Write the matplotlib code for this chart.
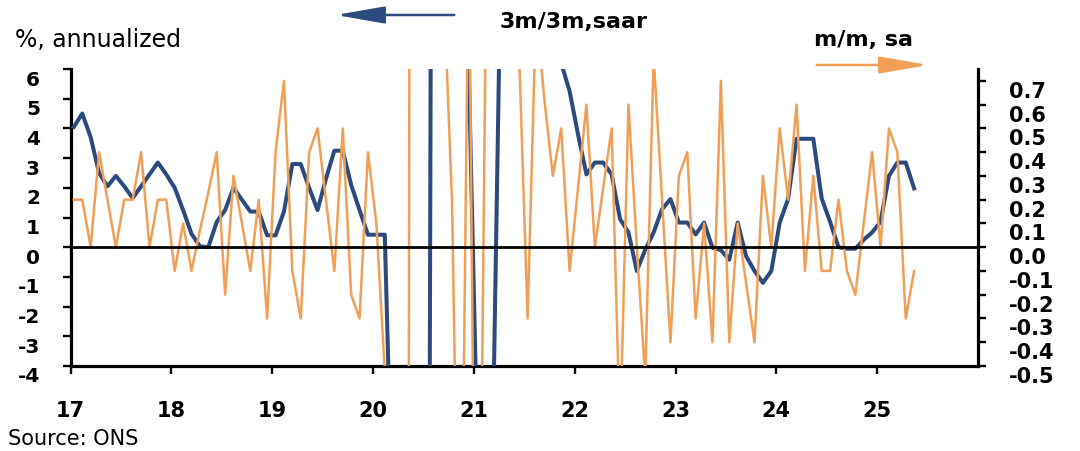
import numpy as np
import matplotlib.pyplot as plt
from matplotlib.transforms import ScaledTranslation

# UK GDP, monthly from Jan 2017 to May 2025
# 3m/3m saar, % (left axis) - values in 2020/21 run far off the scale
saar_3m3m = [
    4.05, 4.5, 3.7, 2.5, 2.05, 2.4, 2.05, 1.65, 2.05, 2.45, 2.85, 2.45,    # 2017
    2.0, 1.25, 0.45, 0.03, 0.0, 0.85, 1.25, 2.0, 1.6, 1.2, 1.2, 0.4,       # 2018
    0.4, 1.2, 2.8, 2.8, 2.0, 1.25, 2.3, 3.25, 3.25, 2.1, 1.25, 0.42,       # 2019
    0.42, 0.42, -10.0, -50.0, -70.0, -60.0, -40.0, 60.0, 80.0, 40.0, 15.0, 6.0,  # 2020
    -6.5, -9.0, -4.1, 13.0, 22.0, 28.0, 25.0, 18.0, 12.0, 8.0, 6.2, 5.25,  # 2021
    3.8, 2.45, 2.85, 2.85, 2.45, 0.95, 0.5, -0.8, -0.08, 0.5, 1.28, 1.62,  # 2022
    0.83, 0.83, 0.43, 0.83, -0.02, -0.1, -0.42, 0.83, -0.3, -0.8, -1.2, -0.8,  # 2023
    0.83, 1.62, 3.65, 3.65, 3.65, 1.64, 0.85, 0.0, -0.05, -0.05, 0.25, 0.5,    # 2024
    0.85, 2.4, 2.85, 2.85, 1.98,                                           # 2025
]

# m/m, sa, % (right axis)
mom_sa = [
    0.2, 0.2, 0.0, 0.4, 0.2, 0.0, 0.2, 0.2, 0.4, 0.0, 0.2, 0.2,
    -0.1, 0.1, -0.1, 0.07, 0.23, 0.4, -0.2, 0.3, 0.1, -0.1, 0.2, -0.3,
    0.4, 0.7, -0.1, -0.3, 0.4, 0.5, 0.2, -0.1, 0.5, -0.2, -0.3, 0.4,
    0.1, -0.52, -7.0, -20.0, 2.5, 9.0, 7.0, 2.5, 1.1, 0.2, -1.9, 1.4,
    -2.6, 0.9, 2.0, 2.5, 1.0, 0.8, -0.3, 1.0, 0.62, 0.3, 0.5, -0.1,
    0.25, 0.6, 0.0, 0.25, 0.5, -0.8, 0.6, 0.0, -0.55, 0.8, 0.2, -0.4,
    0.3, 0.4, -0.3, 0.1, -0.4, 0.7, -0.4, 0.1, -0.15, -0.4, 0.3, 0.0,
    0.5, 0.2, 0.6, -0.1, 0.3, -0.1, -0.1, 0.2, -0.1, -0.2, 0.1, 0.4,
    0.0, 0.5, 0.4, -0.3, -0.1,
]

years = list(range(2017, 2026))
year_labels = [str(y)[2:] for y in years]
left_ticks = list(range(-4, 7))
right_ticks = [round(-0.5 + 0.1 * k, 1) for k in range(13)]

navy = "#2c4a7e"
orange = "#f0a056"

months = np.arange(len(saar_3m3m))
x = 2017 + (months + 0.4) / 12

W, H = 1080, 451
fig = plt.figure(figsize=(W / 100, H / 100), dpi=100)
ax = fig.add_axes([70.5 / W, 1 - 366 / H, 907.5 / W, 297 / H])
ax2 = ax.twinx()

ax.plot(x, saar_3m3m, color=navy, lw=2.9, solid_joinstyle="round", zorder=3)
ax2.plot(x, mom_sa, color=orange, lw=1.8, zorder=3)
ax2.axhline(0, color="black", lw=2.0, zorder=5)

ax.set_xlim(2017, 2026)
ax.set_ylim(-4, 6)
ax2.set_ylim(-0.5, 0.75)

ax.set_xticks(years)
ax.set_xticklabels(year_labels)
ax.set_yticks(left_ticks)
ax.set_yticklabels([str(t) for t in left_ticks])
ax2.set_yticks(right_ticks)
ax2.set_yticklabels([f"{t:.1f}" for t in right_ticks])

for a in (ax, ax2):
    a.spines["top"].set_visible(False)
    for s in a.spines.values():
        s.set_linewidth(2.3)
ax.spines["right"].set_visible(False)
ax2.spines["left"].set_visible(False)
ax2.spines["bottom"].set_visible(False)

ax.tick_params(axis="both", direction="out", length=6, width=1.7)
ax.tick_params(axis="y", labelsize=14.5, pad=16)
ax.tick_params(axis="x", labelsize=15, pad=19)
ax2.tick_params(axis="y", direction="out", length=6, width=1.7, labelsize=15, pad=16)

# labels sit a little below their ticks in the original
shift = ScaledTranslation(0, -0.09, fig.dpi_scale_trans)
for lab in ax.get_yticklabels() + ax2.get_yticklabels():
    lab.set_fontweight("bold")
    lab.set_transform(lab.get_transform() + shift)
for lab in ax.get_xticklabels():
    lab.set_fontweight("bold")

fig.text(15 / W, 1 - 40 / H, "%, annualized", fontsize=17, va="center")
fig.text(500 / W, 1 - 22 / H, "3m/3m,saar", fontsize=16, fontweight="bold", va="center")
fig.text(814 / W, 1 - 40 / H, "m/m, sa", fontsize=16, fontweight="bold", va="center")
fig.text(8 / W, 1 - 445 / H, "Source: ONS", fontsize=15, va="baseline")

# direction arrows
ax.annotate("", xy=(333, H - 15), xytext=(457, H - 15), xycoords="figure pixels",
            arrowprops=dict(arrowstyle="-|>,head_length=2.0,head_width=0.35",
                            mutation_scale=15, color=navy, lw=1.8))
ax.annotate("", xy=(931, H - 65), xytext=(814, H - 65), xycoords="figure pixels",
            arrowprops=dict(arrowstyle="-|>,head_length=2.0,head_width=0.35",
                            mutation_scale=15, color=orange, lw=1.8))

fig.savefig("out.png", dpi=100)
